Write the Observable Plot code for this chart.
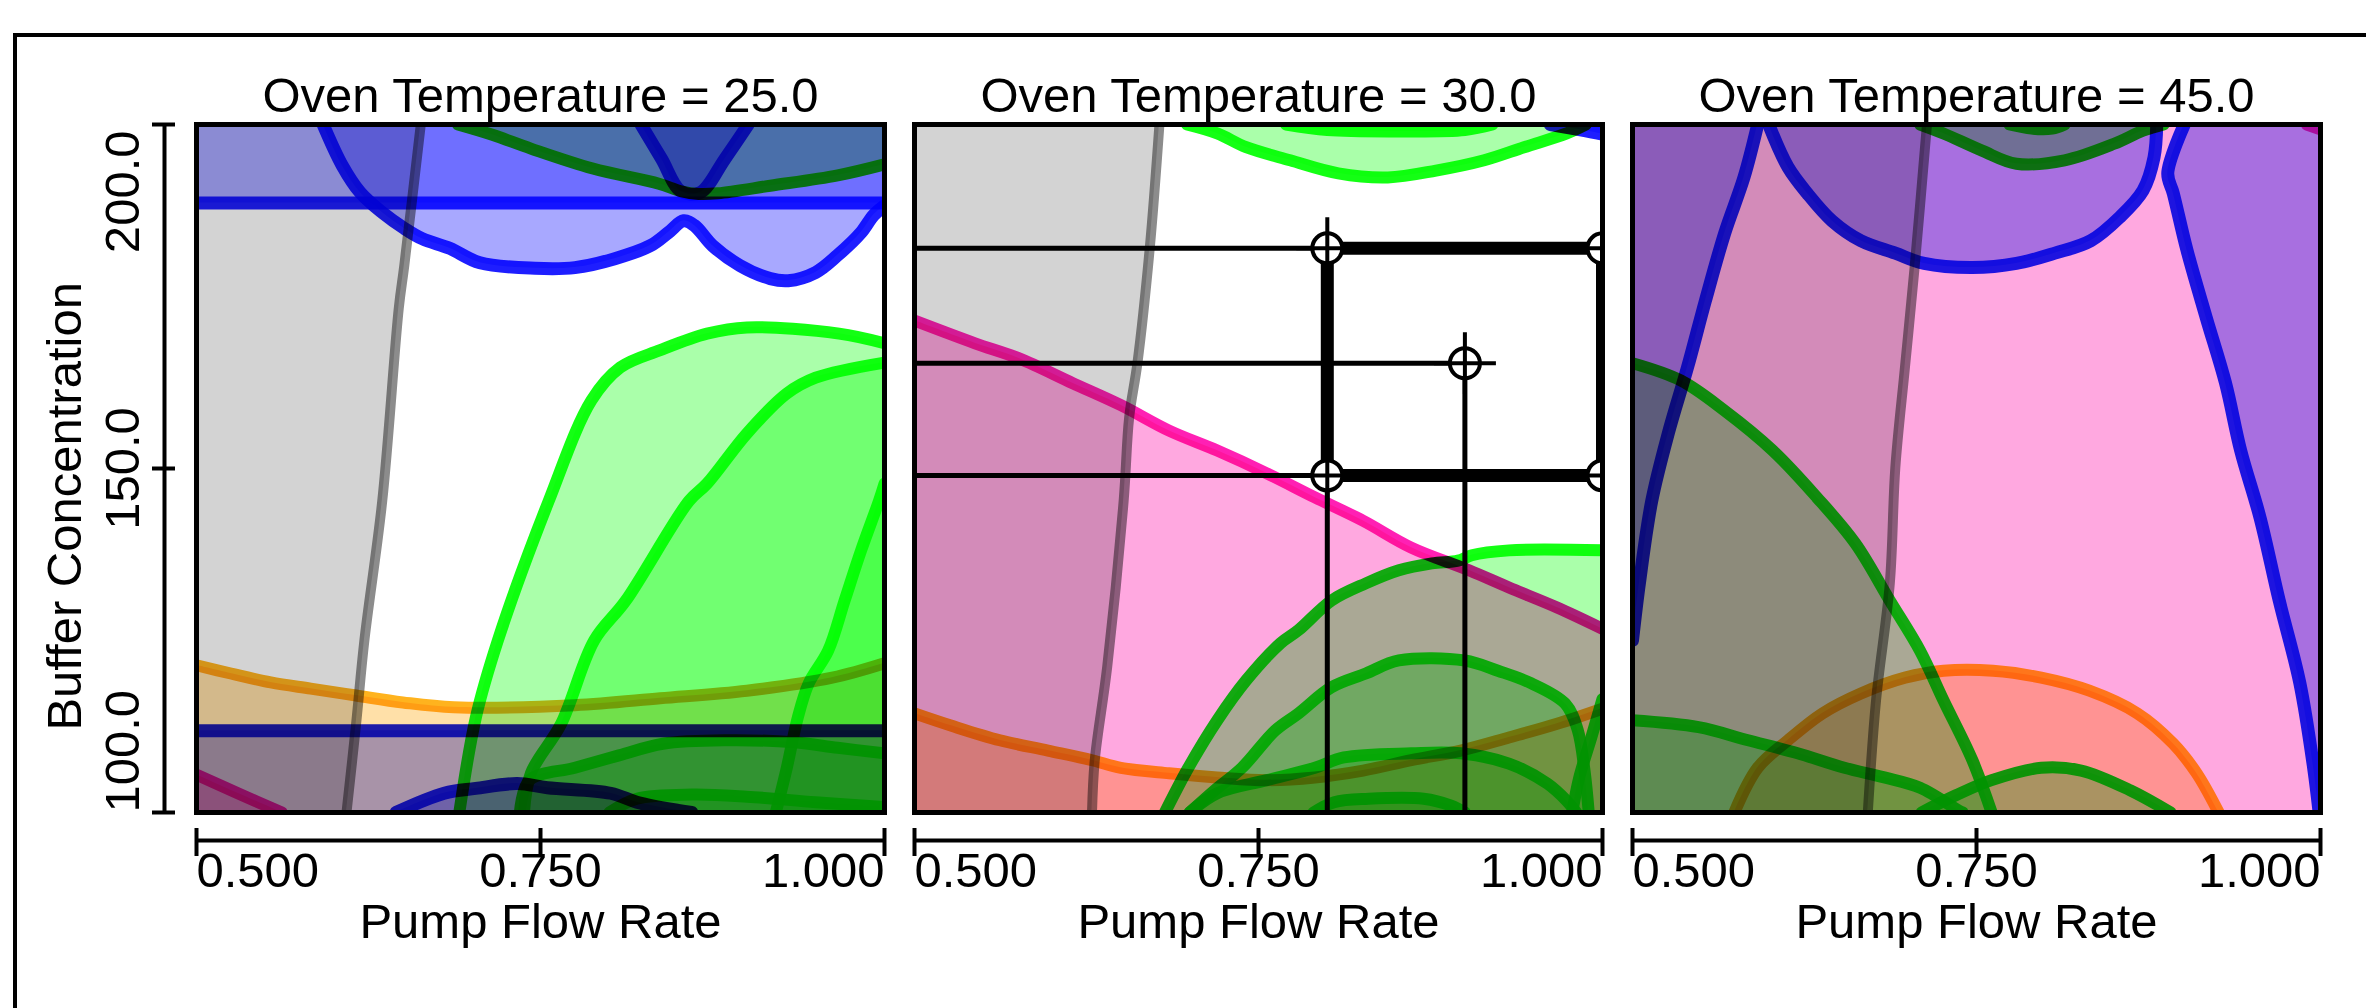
<!DOCTYPE html>
<html>
<head>
<meta charset="utf-8">
<script src="https://cdn.jsdelivr.net/npm/d3@7"></script>
<script src="https://cdn.jsdelivr.net/npm/@observablehq/plot@0.6"></script>
<style>
  html, body { margin: 0; padding: 0; background: #fff; }
  #wrap { position: relative; width: 2366px; height: 1008px; overflow: hidden; }
  #outer { position: absolute; left: 13px; top: 33px; right: -10px; bottom: -10px;
           border-top: 4px solid #000; border-left: 4px solid #000; pointer-events: none; }
  #chart g[aria-label="area"], #chart g[aria-label="line"] { mix-blend-mode: multiply; }
</style>
</head>
<body>
<div id="wrap"><div id="chart"></div><div id="outer"></div></div>
<script>
// ---------- labels & ticks ----------
const panelKeys = ["25.0", "30.0", "45.0"];
const panelTitles = ["Oven Temperature = 25.0", "Oven Temperature = 30.0", "Oven Temperature = 45.0"];
const xTicks = [0.5, 0.75, 1.0];
const xTickLabels = ["0.500", "0.750", "1.000"];
const yTicks = [100, 150, 200];
const yTickLabels = ["100.0", "150.0", "200.0"];
const xLabel = "Pump Flow Rate";
const yLabel = "Buffer Concentration";

// ---------- contour lines, [Pump Flow Rate, Buffer Concentration] ----------
// Oven Temperature = 25.0
const t25Gray   = [[0.663,200],[0.651,179.5],[0.647,173.3],[0.635,145.3],[0.622,125.0],[0.616,112.9],[0.609,100]];
const t25BlueHi = [[0.5,188.6],[1.0,188.6]];
const t25BlueW  = [[0.592,200],[0.606,194.0],[0.619,190.1],[0.635,187.2],[0.651,184.9],[0.664,183.4],[0.684,182.0],[0.706,179.9],[0.746,179.1],[0.775,179.2],[0.804,180.5],[0.830,182.4],[0.843,184.3],[0.854,186.0],[0.862,185.3],[0.875,182.4],[0.895,179.5],[0.917,177.6],[0.930,177.3],[0.950,178.5],[0.966,181.0],[0.983,184.3],[0.992,186.8],[1.0,188.2]];
const t25BlueV  = [[0.823,200],[0.838,195.0],[0.852,190.3],[0.866,190.1],[0.884,195.0],[0.901,200]];
const t25BlueLo = [[0.5,111.9],[1.0,111.9]];
const t25BlueArc= [[0.645,100],[0.680,102.8],[0.703,103.5],[0.733,104.2],[0.755,103.6],[0.801,102.8],[0.820,101.5],[0.850,100.3],[0.860,100]];
const t25G1 = [[0.691,100],[0.703,113.8],[0.719,125.0],[0.756,145.3],[0.787,159.9],[0.808,164.7],[0.837,167.2],[0.871,169.6],[0.900,170.5],[0.967,169.6],[1.0,168.2]];
const t25G2 = [[0.738,100],[0.743,105.7],[0.765,112.9],[0.789,125.0],[0.812,130.8],[0.858,145.3],[0.871,147.8],[0.900,155.1],[0.929,160.9],[0.950,163.2],[1.0,165.4]];
const t25G3 = [[0.921,100],[0.929,106.5],[0.937,113.8],[0.945,118.8],[0.959,123.5],[0.971,130.8],[0.983,138.1],[0.996,145.3],[1.0,147.8]];
const t25G4 = [[0.735,100],[0.742,104.7],[0.775,106.5],[0.807,108.3],[0.839,110.0],[0.885,110.5],[0.934,110.2],[0.966,109.4],[1.0,108.6]];
const t25G5 = [[0.800,100],[0.820,102.0],[0.860,102.6],[0.900,102.3],[0.950,101.5],[1.0,100.8]];
const t25G6 = [[0.690,200],[0.715,198.5],[0.743,196.5],[0.788,193.6],[0.836,191.4],[0.852,190.3],[0.865,189.9],[0.879,190.0],[0.917,191.1],[0.966,192.6],[1.0,194.2]];
const t25Orange = [[0.5,121.4],[0.525,120.2],[0.554,118.9],[0.583,118.0],[0.616,117.0],[0.650,116.0],[0.687,115.3],[0.775,115.6],[0.837,116.6],[0.900,117.7],[0.962,119.6],[1.0,121.7]];
const t25Pink = [[0.5,105.5],[0.530,102.8],[0.562,100]];

// Oven Temperature = 30.0
const t30Gray = [[0.678,200],[0.671,182.1],[0.662,165.3],[0.656,157.4],[0.652,145.3],[0.640,121.1],[0.631,107.6],[0.629,100]];
const t30GTop = [[0.698,200],[0.720,198.7],[0.741,196.7],[0.773,194.8],[0.808,192.9],[0.844,192.3],[0.879,193.3],[0.914,194.8],[0.943,196.7],[0.974,198.7],[0.988,200]];
const t30GTop2 = [[0.770,200],[0.800,199.2],[0.850,199.0],[0.900,199.2],[0.920,200]];
const t30BlueCorner = [[0.962,200],[0.985,199.2],[1.0,198.6]];
const t30Pink = [[0.5,171.5],[0.544,168.2],[0.576,166.0],[0.615,162.4],[0.650,159.2],[0.685,155.5],[0.720,152.6],[0.756,149.3],[0.791,145.8],[0.826,142.4],[0.861,138.5],[0.903,135.2],[0.932,132.7],[0.967,129.8],[1.0,126.7]];
const t30Dome1 = [[0.682,100],[0.699,106.5],[0.720,113.4],[0.741,119.2],[0.766,124.6],[0.779,126.5],[0.803,130.8],[0.828,133.3],[0.852,135.2],[0.876,136.2],[0.895,136.6],[0.905,137.4],[0.932,138.1],[1.0,138.1]];
const t30Dome2 = [[0.700,100],[0.718,103.2],[0.738,106.5],[0.762,111.9],[0.779,114.4],[0.803,118.2],[0.828,120.2],[0.852,122.1],[0.900,122.1],[0.924,120.6],[0.948,118.8],[0.973,115.8],[0.982,112.0],[0.987,106.0],[0.990,100]];
const t30GEdge = [[1.0,116.5],[0.992,111.0],[0.983,105.0],[0.978,100]];
const t30Dome3 = [[0.700,100],[0.720,102.8],[0.756,104.7],[0.791,106.5],[0.812,108.0],[0.861,108.6],[0.897,108.6],[0.932,107.1],[0.960,104.2],[0.974,101.7],[0.981,100]];
const t30Dome4 = [[0.790,100],[0.805,101.5],[0.830,102.0],[0.870,102.0],[0.890,101.0],[0.900,100]];
const t30Orange = [[0.5,114.4],[0.527,112.6],[0.562,110.5],[0.597,109.0],[0.629,107.6],[0.650,106.5],[0.685,105.7],[0.720,105.1],[0.756,104.7],[0.791,105.1],[0.826,106.1],[0.861,107.6],[0.897,109.0],[0.932,110.9],[0.967,112.9],[1.0,115.1]];

// Oven Temperature = 45.0
const t45Pink = [[0.990,200],[1.0,199.3]];
const t45PinkArea = [[0.5,200],[0.990,200],[1.0,199.3]];
const t45Gray = [[0.714,200],[0.705,179.2],[0.698,164.7],[0.691,150.1],[0.687,133.3],[0.677,116.3],[0.671,100]];
const t45BlueL = [[0.591,200],[0.581,192.3],[0.567,184.2],[0.553,174.4],[0.540,164.7],[0.526,155.1],[0.514,145.3],[0.505,133.3],[0.5,125.0]];
const t45BlueU = [[0.599,200],[0.613,193.8],[0.627,190.0],[0.645,186.0],[0.666,183.1],[0.691,181.3],[0.712,179.8],[0.747,179.2],[0.779,179.8],[0.807,181.3],[0.833,183.1],[0.854,186.5],[0.871,190.4],[0.879,195.2],[0.881,200]];
const t45BlueR = [[0.901,200],[0.889,192.9],[0.893,190.0],[0.903,181.7],[0.917,171.9],[0.931,162.4],[0.942,152.6],[0.956,142.9],[0.970,130.8],[0.985,118.8],[0.995,106.5],[0.999,100]];
const t45GTop = [[0.709,200],[0.726,198.7],[0.754,196.2],[0.779,194.3],[0.814,194.8],[0.850,197.2],[0.871,199.1],[0.886,200]];
const t45GTop2 = [[0.774,200],[0.790,199.4],[0.805,199.4],[0.814,200]];
const t45GLeft = [[0.5,165.3],[0.535,162.8],[0.567,158.4],[0.602,152.6],[0.634,145.8],[0.662,139.1],[0.687,130.8],[0.709,123.5],[0.726,116.3],[0.747,107.6],[0.761,100]];
const t45GLow = [[0.5,113.4],[0.548,112.4],[0.584,110.5],[0.620,108.6],[0.654,106.5],[0.683,105.1],[0.709,103.6],[0.737,100.3],[0.740,100]];
const t45Orange = [[0.574,100],[0.591,106.5],[0.613,110.5],[0.638,114.4],[0.666,117.3],[0.698,119.6],[0.726,120.6],[0.762,120.6],[0.797,119.6],[0.832,117.7],[0.867,114.4],[0.893,110.0],[0.910,105.7],[0.926,100]];
const t45GArc = [[0.710,100],[0.735,102.5],[0.761,104.7],[0.797,106.5],[0.826,106.1],[0.862,103.2],[0.891,100]];

// design-space box (Oven Temperature = 30.0)
const boxPanel = "30.0";
const boxX = [0.8, 1.0];
const boxY = [149, 182];
const boxCenter = [0.9, 165.3];

// ---------- contour table: which side of each line is shaded ----------
const contours = [
  {panel:"25.0", kind:"gray",   line:t25Gray,    side:"left"},
  {panel:"25.0", kind:"blue",   line:t25BlueHi,  side:"above"},
  {panel:"25.0", kind:"blue",   line:t25BlueW,   side:"above"},
  {panel:"25.0", kind:"blue",   line:t25BlueV,   side:"above"},
  {panel:"25.0", kind:"blue",   line:t25BlueLo,  side:"below"},
  {panel:"25.0", kind:"blue",   line:t25BlueArc, side:"below"},
  {panel:"25.0", kind:"green",  line:t25G1,      side:"below"},
  {panel:"25.0", kind:"green",  line:t25G2,      side:"below"},
  {panel:"25.0", kind:"green",  line:t25G3,      side:"below"},
  {panel:"25.0", kind:"green",  line:t25G4,      side:"below"},
  {panel:"25.0", kind:"green",  line:t25G5,      side:"below"},
  {panel:"25.0", kind:"green",  line:t25G6,      side:"above"},
  {panel:"25.0", kind:"orange", line:t25Orange,  side:"below"},
  {panel:"25.0", kind:"pink",   line:t25Pink,    side:"below"},

  {panel:"30.0", kind:"gray",   line:t30Gray,    side:"left"},
  {panel:"30.0", kind:"green",  line:t30GTop,    side:"above"},
  {panel:"30.0", kind:"green",  line:t30GTop2,   side:"above"},
  {panel:"30.0", kind:"blue",   line:t30BlueCorner, side:"above"},
  {panel:"30.0", kind:"pink",   line:t30Pink,    side:"below"},
  {panel:"30.0", kind:"green",  line:t30Dome1,   side:"below"},
  {panel:"30.0", kind:"green",  line:t30Dome2,   side:"below"},
  {panel:"30.0", kind:"green",  line:t30GEdge,   side:"right"},
  {panel:"30.0", kind:"green",  line:t30Dome3,   side:"below"},
  {panel:"30.0", kind:"green",  line:t30Dome4,   side:"below"},
  {panel:"30.0", kind:"orange", line:t30Orange,  side:"below"},

  {panel:"45.0", kind:"pink",   line:t45Pink,    side:"below", area:t45PinkArea},
  {panel:"45.0", kind:"gray",   line:t45Gray,    side:"left"},
  {panel:"45.0", kind:"blue",   line:t45BlueL,   side:"left"},
  {panel:"45.0", kind:"blue",   line:t45BlueU,   side:"above"},
  {panel:"45.0", kind:"blue",   line:t45BlueR,   side:"right"},
  {panel:"45.0", kind:"green",  line:t45GTop,    side:"above"},
  {panel:"45.0", kind:"green",  line:t45GTop2,   side:"above"},
  {panel:"45.0", kind:"green",  line:t45GLeft,   side:"below"},
  {panel:"45.0", kind:"green",  line:t45GLow,    side:"below"},
  {panel:"45.0", kind:"orange", line:t45Orange,  side:"below"},
  {panel:"45.0", kind:"green",  line:t45GArc,    side:"below"}
];

const kinds = {
  gray:   {fill: "#d3d3d3", stroke: "#8c8c8c", w: 10},
  blue:   {fill: "#a8a8ff", stroke: "#1e1eff", w: 13},
  green:  {fill: "#aaffaa", stroke: "#14ff14", w: 12},
  orange: {fill: "#ffe0a8", stroke: "#ffb31e", w: 12},
  pink:   {fill: "#ffa8e0", stroke: "#ff20b4", w: 12}
};

const [xMin, xMax] = [0.5, 1.0];
const [yMin, yMax] = [100, 200];
const project = {
  below: ([x, y]) => [x, yMin],
  above: ([x, y]) => [x, yMax],
  left:  ([x, y]) => [xMin, y],
  right: ([x, y]) => [xMax, y]
};

const marks = [];
const curve = "catmull-rom";

// shaded regions (multiplied together like the original)
contours.forEach(c => {
  const pts = c.area || c.line;
  const rows = pts.map(p => {
    const q = project[c.side](p);
    return {fx: c.panel, x1: p[0], y1: p[1], x2: q[0], y2: q[1]};
  });
  marks.push(Plot.area(rows, {
    fx: "fx", x1: "x1", y1: "y1", x2: "x2", y2: "y2", curve,
    fill: kinds[c.kind].fill, clip: true
  }));
});
// contour lines
contours.forEach(c => {
  const rows = c.line.map(([x, y]) => ({fx: c.panel, x, y}));
  marks.push(Plot.line(rows, {
    fx: "fx", x: "x", y: "y", curve,
    stroke: kinds[c.kind].stroke, strokeWidth: kinds[c.kind].w,
    strokeLinejoin: "round", clip: true
  }));
});

// design-space box overlay
const [bx0, bx1] = boxX, [by0, by1] = boxY, [cx, cy] = boxCenter;
const thinSegs = [
  {x1: xMin, y1: by1, x2: bx0, y2: by1},
  {x1: xMin, y1: cy,  x2: cx,  y2: cy},
  {x1: xMin, y1: by0, x2: bx0, y2: by0},
  {x1: bx0,  y1: by0, x2: bx0, y2: yMin},
  {x1: cx,   y1: cy,  x2: cx,  y2: yMin}
].map(d => ({...d, fx: boxPanel}));
marks.push(Plot.link(thinSegs, {fx: "fx", x1: "x1", y1: "y1", x2: "x2", y2: "y2", stroke: "black", strokeWidth: 5, clip: true}));
const boxPts = [[bx0,by1],[bx1,by1],[bx1,by0],[bx0,by0],[bx0,by1]].map(([x,y]) => ({fx: boxPanel, x, y}));
marks.push(Plot.link(boxPts.slice(0, 4).map((p, i) => ({fx: boxPanel, x1: p.x, y1: p.y, x2: boxPts[i+1].x, y2: boxPts[i+1].y})),
  {fx: "fx", x1: "x1", y1: "y1", x2: "x2", y2: "y2", stroke: "black", strokeWidth: 13, strokeLinecap: "square", clip: true}));
const markerPts = [[bx0,by1],[bx1,by1],[bx0,by0],[bx1,by0],[cx,cy]].map(([x,y]) => ({fx: boxPanel, x, y}));
marks.push(Plot.dot(markerPts, {fx: "fx", x: "x", y: "y", r: 15, fill: "white", stroke: "black", strokeWidth: 4, clip: true}));
marks.push(Plot.dot(markerPts, {fx: "fx", x: "x", y: "y", r: 20, symbol: "plus", stroke: "black", strokeWidth: 4, clip: true}));

// panel frames
marks.push(Plot.frame({stroke: "black", strokeWidth: 5}));

// titles
marks.push(Plot.text(panelKeys.map((k, i) => ({fx: k, t: panelTitles[i]})),
  {fx: "fx", text: "t", frameAnchor: "top", dy: -47, fill: "black"}));

// x axis (every panel)
marks.push(Plot.ruleY([yMin], {dy: 28, stroke: "black", strokeWidth: 4}));
marks.push(Plot.axisX({ticks: xTicks, tickSize: 28, dy: 16, tickFormat: () => "", stroke: "black", strokeWidth: 4, label: null}));
const xAnchors = ["start", "middle", "end"];
xTicks.forEach((t, i) => {
  marks.push(Plot.text([{x: t, s: xTickLabels[i]}], {x: "x", text: "s", frameAnchor: "bottom", dy: 74, textAnchor: xAnchors[i], fill: "black"}));
});
marks.push(Plot.text([xLabel], {text: d => d, frameAnchor: "bottom", dy: 125, textAnchor: "middle", fill: "black"}));

// y axis (first panel only)
marks.push(Plot.ruleX([xMin], {fx: () => panelKeys[0], dx: -32, stroke: "black", strokeWidth: 4}));
marks.push(Plot.axisY({ticks: yTicks, tickSize: 23, dx: -21, tickFormat: () => "", stroke: "black", strokeWidth: 4, label: null}));
const yAnchors = ["start", "middle", "end"];
const yNudge = [0, 0, 6];
yTicks.forEach((t, i) => {
  marks.push(Plot.text([{y: t, s: yTickLabels[i]}], {fx: () => panelKeys[0], y: "y", text: "s", frameAnchor: "left", dx: -73, dy: yNudge[i], rotate: -90, textAnchor: yAnchors[i], fill: "black"}));
});
marks.push(Plot.text([yLabel], {fx: () => panelKeys[0], y: () => 144.5, text: d => d, frameAnchor: "left", dx: -131, rotate: -90, textAnchor: "middle", fill: "black"}));

const chart = Plot.plot({
  width: 2366,
  height: 1008,
  marginLeft: 196,
  marginRight: 46,
  marginTop: 124,
  marginBottom: 196,
  x: {domain: [xMin, xMax]},
  y: {domain: [yMin, yMax]},
  fx: {domain: panelKeys, paddingInner: 0.042, paddingOuter: 0, axis: null, label: null},
  style: {fontFamily: "'Liberation Sans', Arial, sans-serif", fontSize: "49px", color: "black", background: "white", overflow: "visible"},
  marks
});
document.getElementById("chart").appendChild(chart);
</script>
</body>
</html>
